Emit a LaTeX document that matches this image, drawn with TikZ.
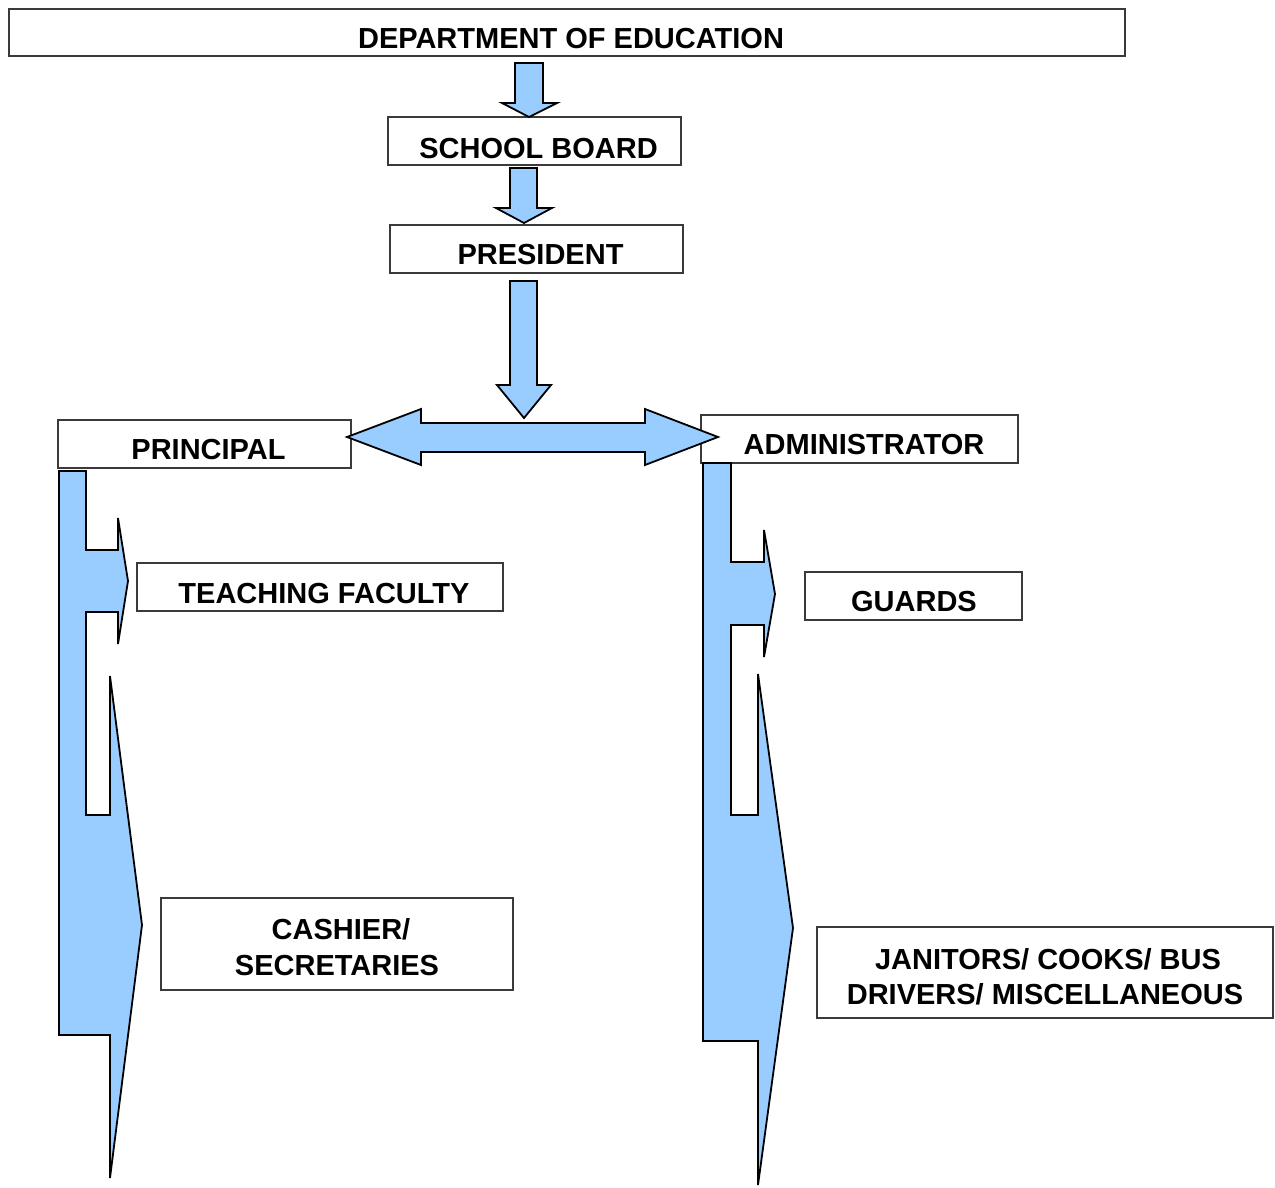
\documentclass[tikz,border=0pt]{standalone}
\usepackage{fontspec}
\setmainfont{Liberation Sans}
\definecolor{arrowblue}{HTML}{99CCFF}
\definecolor{boxline}{HTML}{3A3A3A}
\begin{document}
\begin{tikzpicture}[x=1pt,y=-1pt,
  box/.style={draw=boxline, line width=1.1pt, fill=white, rectangle, inner sep=0pt},
  lbl/.style={anchor=base, inner sep=0pt, font=\fontsize{29}{34}\selectfont\bfseries},
  blockarrow/.style={draw=black, line width=1.8pt, fill=arrowblue, line join=miter}]
\useasboundingbox (0,0) rectangle (1275,1187);

% boxes
\node[box, minimum width=1116pt, minimum height=47pt] (dept)   at (567,32.5) {};
\node[box, minimum width=293pt,  minimum height=48pt] (board)  at (534.5,141) {};
\node[box, minimum width=293pt,  minimum height=48pt] (pres)   at (536.5,249) {};
\node[box, minimum width=293pt,  minimum height=48pt] (prin)   at (204.5,444) {};
\node[box, minimum width=317pt,  minimum height=48pt] (admin)  at (859.5,439) {};
\node[box, minimum width=366pt,  minimum height=48pt] (teach)  at (320,587) {};
\node[box, minimum width=217pt,  minimum height=48pt] (guards) at (913.5,596) {};
\node[box, minimum width=352pt,  minimum height=92pt] (cash)   at (337,944) {};
\node[box, minimum width=456pt,  minimum height=91pt] (jan)    at (1045,972.5) {};

% block arrows down the chain of command
\draw[blockarrow] (515,63) -- (543,63) -- (543,103) -- (557,103) -- (529,117)
  -- (502,103) -- (515,103) -- cycle;
\draw[blockarrow] (510,168) -- (537,168) -- (537,208) -- (552,208) -- (524,223)
  -- (496,208) -- (510,208) -- cycle;
\draw[blockarrow] (510,281) -- (537,281) -- (537,385) -- (551,385) -- (524,418)
  -- (497,385) -- (510,385) -- cycle;

% double arrow between principal and administrator
\draw[blockarrow] (347,437) -- (421,409) -- (421,423) -- (645,423) -- (645,409)
  -- (718,437) -- (645,465) -- (645,452) -- (421,452) -- (421,465) -- cycle;

% principal branch
\draw[blockarrow] (59,471) -- (86,471) -- (86,550) -- (118,550) -- (118,518)
  -- (128,581) -- (118,644) -- (118,612) -- (86,612) -- (86,815) -- (110,815)
  -- (110,676) -- (142,925) -- (110,1178) -- (110,1035) -- (59,1035) -- cycle;

% administrator branch
\draw[blockarrow] (703,463) -- (731,463) -- (731,562) -- (764,562) -- (764,530)
  -- (775,594) -- (764,657) -- (764,625) -- (731,625) -- (731,815) -- (758,815)
  -- (758,674) -- (793,928) -- (758,1185) -- (758,1041) -- (703,1041) -- cycle;

% labels
\node[lbl] (tdept)   at (571,48)    {DEPARTMENT OF EDUCATION};
\node[lbl] (tboard)  at (538.5,158) {SCHOOL BOARD};
\node[lbl] (tpres)   at (540.5,264) {PRESIDENT};
\node[lbl] (tprin)   at (208.5,459) {PRINCIPAL};
\node[lbl] (tadmin)  at (864,454)   {ADMINISTRATOR};
\node[lbl] (tteach)  at (324,603)   {TEACHING FACULTY};
\node[lbl] (tguards) at (914,611)   {GUARDS};
\node[lbl] (tcash1)  at (341,939)   {CASHIER/};
\node[lbl] (tcash2)  at (337,975)   {SECRETARIES};
\node[lbl] (tjan1)   at (1048,969)  {JANITORS/ COOKS/ BUS};
\node[lbl] (tjan2)   at (1045,1004) {DRIVERS/ MISCELLANEOUS};
\end{tikzpicture}
\end{document}
